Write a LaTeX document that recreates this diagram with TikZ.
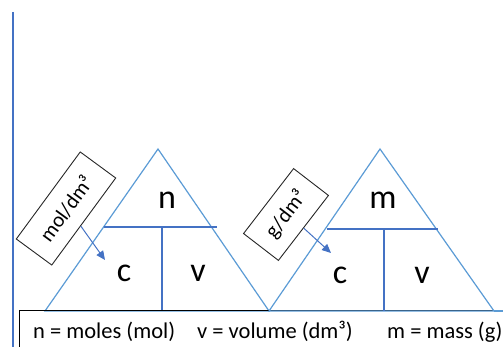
\documentclass[tikz,border=0pt]{standalone}
\usepackage{fontspec}
\setmainfont{Carlito}
\usetikzlibrary{calc,arrows.meta}
\definecolor{triblue}{RGB}{91,155,213}
\definecolor{deepblue}{RGB}{68,114,196}
\tikzset{
  triline/.style={draw=triblue, line width=1.2pt, line join=miter},
  divline/.style={draw=deepblue, line width=1.1pt},
  bigletter/.style={inner sep=0pt, font=\fontsize{34}{38}\selectfont},
  unitbox/.style={draw=black!85, line width=0.9pt, fill=white, inner sep=0pt,
    minimum height=44pt, font=\fontsize{21}{22}\selectfont},
  pointer/.style={draw=deepblue, line width=1pt, -{Triangle[length=9pt,width=8pt]}},
  keytext/.style={inner sep=0pt, anchor=base west, font=\fontsize{22.5}{24}\selectfont}
}
\begin{document}
\begin{tikzpicture}[x=1pt,y=1pt]
  \useasboundingbox (0,0) rectangle (503,347);

  % margin rule on the left
  \draw[deepblue, line width=1.8pt] (13,335) -- (13,0);

  % triangle for n = c v (its base lies on the key box edge)
  \path[triline] (45,36) -- (158,198) -- (269,36) -- cycle;
  \draw[divline] (104,120) -- (217,120);
  \draw[divline] (162,120) -- (162,36);

  % key box along the bottom
  \draw[black, line width=1pt] (19,0) -- (19,36) -- (503,36);

  % triangle for m = c v
  \path[triline] (269,36) -- (380,198) -- (494,36) -- cycle;
  \draw[triline] (494,36) -- (503,36);
  \draw[divline] (327,118) -- (438,118);
  \draw[divline] (384,118) -- (384,36);

  % letters in the triangles
  \node[bigletter] (n1) at (167,147) {n};
  \node[bigletter] (c1) at (124,74) {c};
  \node[bigletter] (v1) at (198,74) {v};
  \node[bigletter] (m2) at (383,147) {m};
  \node[bigletter] (c2) at (340,72) {c};
  \node[bigletter] (v2) at (422,72) {v};

  % unit labels with pointers
  \node[unitbox, minimum width=108pt, rotate=53.7] (u1) at (66,138.5) {mol/dm³};
  \node[unitbox, minimum width=82pt, rotate=52.4] (u2) at (286,132.5) {g/dm³};
  \coordinate (p1) at ($(u1.south west)!0.45!(u1.south east)$);
  \coordinate (t1) at (105,87);
  \coordinate (p2) at ($(u2.south west)!0.5!(u2.south east)$);
  \coordinate (t2) at (331,94);
  \draw[pointer] (p1) -- (t1);
  \draw[pointer] (p2) -- (t2);

  % key
  \node[keytext] (k1) at (33,8) {n = moles (mol)};
  \node[keytext] (k2) at (197,8) {v = volume (dm³)};
  \node[keytext] (k3) at (387,8) {m = mass (g)};
\end{tikzpicture}
\end{document}
